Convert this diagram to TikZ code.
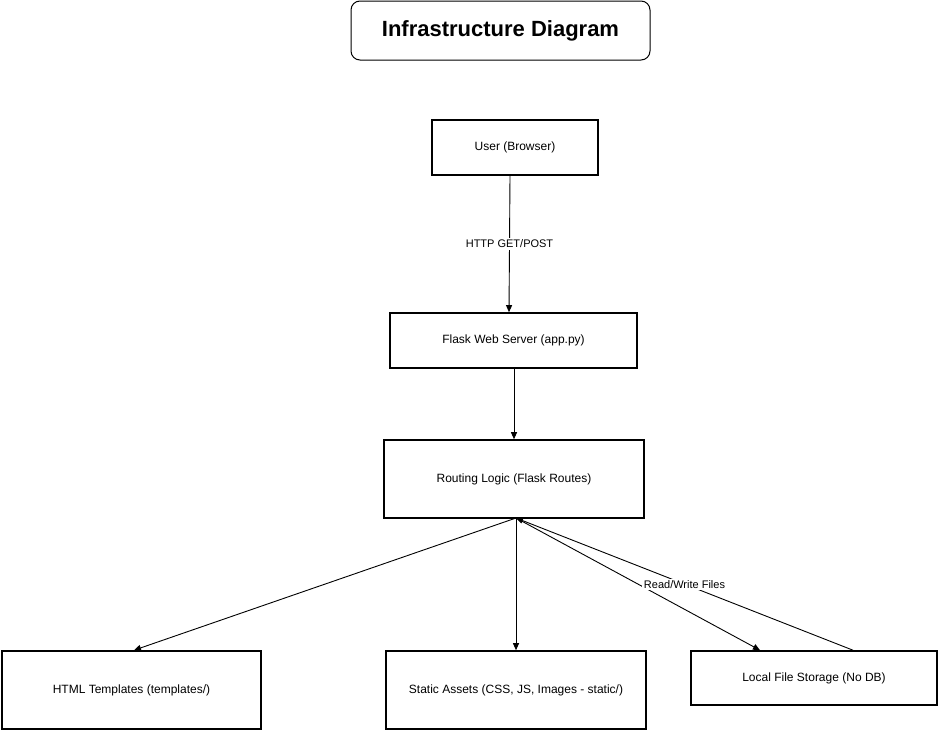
\documentclass[tikz,border=0pt]{standalone}
\usepackage{fontspec}
\setmainfont{Liberation Sans}
\usetikzlibrary{arrows.meta}
\begin{document}
\begin{tikzpicture}[x=1pt,y=-1pt,
  box/.style={draw=black, line width=1.6pt, fill=white, inner sep=0pt, font=\fontsize{12}{14}\selectfont},
  titlebox/.style={draw=black, line width=1pt, rounded corners=9pt, fill=white, font=\fontsize{22}{25}\selectfont\bfseries},
  conn/.style={draw=black, line width=0.9pt, -{Triangle[length=7pt,width=6pt]}},
  elabel/.style={fill=white, inner sep=1.5pt, font=\fontsize{11}{13}\selectfont}]
\useasboundingbox (0,0) rectangle (939,731);
\node[titlebox, minimum width=299pt, minimum height=59pt] (title) at (500.5,30.5) {Infrastructure Diagram};
\node[box, minimum width=166pt, minimum height=55pt] (user) at (515,147.5) {User (Browser)};
\node[box, minimum width=247pt, minimum height=55pt] (flask) at (513.5,340.5) {Flask Web Server (app.py)};
\node[box, minimum width=260pt, minimum height=78pt] (route) at (514,479) {Routing Logic (Flask Routes)};
\node[box, minimum width=259pt, minimum height=78pt] (html) at (131.5,690) {HTML Templates (templates/)};
\node[box, minimum width=260pt, minimum height=78pt] (static) at (516,690) {Static Assets (CSS, JS, Images - static/)};
\node[box, minimum width=246pt, minimum height=54pt] (store) at (814,678) {Local File Storage (No DB)};
\coordinate (rb) at (516,518);
\draw[conn] (user.south -| 510,0) -- node[elabel]{HTTP GET/POST} (flask.north -| 509,0);
\draw[conn] (flask.south -| 514,0) -- (route.north -| 514,0);
\draw[conn] (rb) -- (html.north -| 134,0);
\draw[conn] (rb) -- (static.north -| 516,0);
\draw[conn] (rb) -- (store.north -| 760,0);
\draw[conn] (store.north -| 853,0) -- node[elabel, pos=0.5]{Read/Write Files} (rb);
\end{tikzpicture}
\end{document}
